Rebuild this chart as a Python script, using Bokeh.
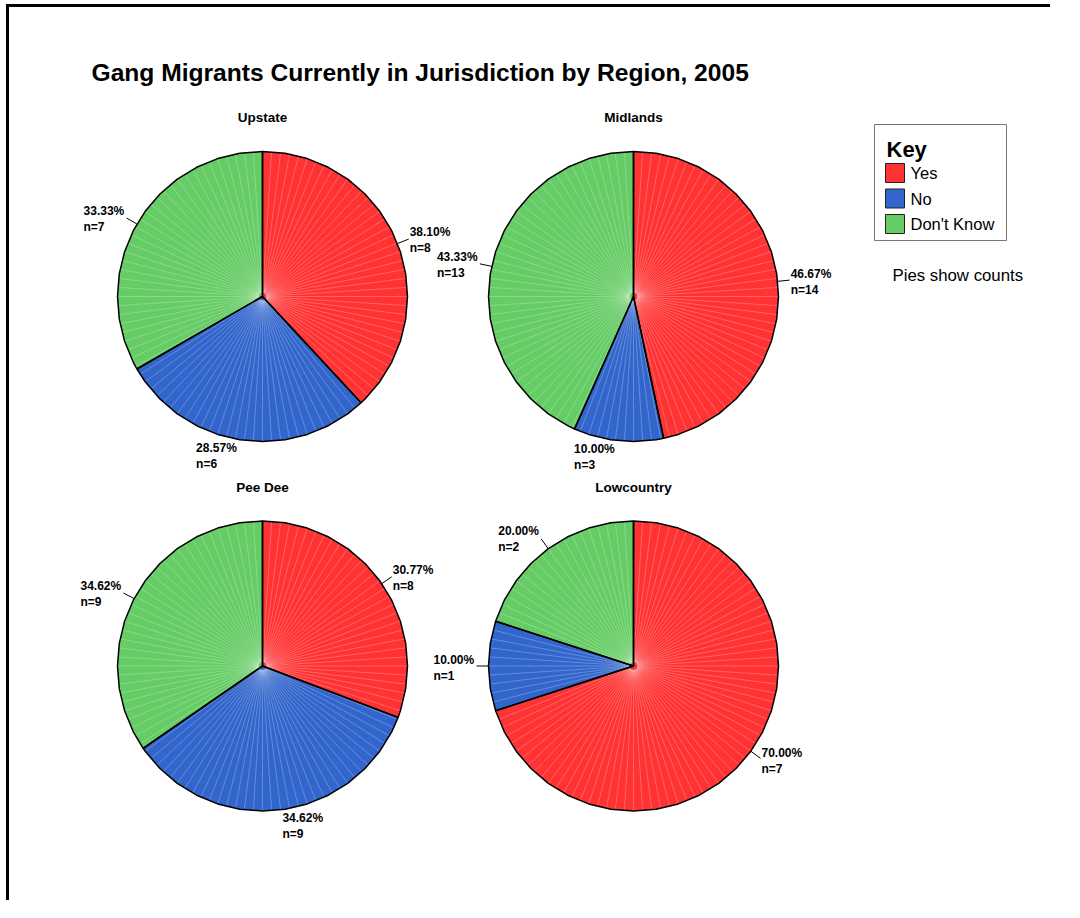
import numpy as np
from bokeh.plotting import figure
from bokeh.models import Range1d
from bokeh.core.properties import value
from bokeh.embed import file_html
from bokeh.resources import INLINE

# ---------------- data ----------------
chart_title = "Gang Migrants Currently in Jurisdiction by Region, 2005"
regions = ["Upstate", "Midlands", "Pee Dee", "Lowcountry"]
categories = ["Yes", "No", "Don't Know"]
yes_counts = [8, 14, 8, 7]
no_counts = [6, 3, 9, 1]
dont_know_counts = [7, 13, 9, 2]
legend_title = "Key"
note_text = "Pies show counts"

# ---------------- style / layout ----------------
colors = ["#FF3333", "#3366CC", "#66CC66"]
FONT = value("Liberation Sans")
W, H = 1050, 900
centers = [(262, 296), (633, 296), (262, 665.5), (633, 665.5)]
subtitle_y = [117, 117, 487, 487]
R = 145.0
NSEG = 40      # polygon facets of each pie
NRAY = 100     # thin white rays
PCT_W = 43     # approx width of a percentage label
LEAD = 12      # leader length

p = figure(width=W, height=H, x_range=Range1d(0, W), y_range=Range1d(H, 0),
           x_axis_type=None, y_axis_type=None, toolbar_location=None,
           output_backend="svg", min_border=0)
p.outline_line_color = None
p.background_fill_color = "white"
p.border_fill_color = "white"

# frame (left and top edges only, as in the reference)
p.line(x=[7, 7], y=[920, 5], line_color="black", line_width=3)
p.line(x=[5.5, 1085], y=[5, 5], line_color="black", line_width=3)

# title
p.text(x=[91], y=[72], text=[chart_title], text_font=FONT, text_font_size="24.6px",
       text_font_style="bold", text_baseline="middle", text_align="left", text_color="black")

series = [yes_counts, no_counts, dont_know_counts]
for i, reg in enumerate(regions):
    cx, cy = centers[i]
    counts = [s[i] for s in series]
    total = float(sum(counts))
    p.text(x=[cx], y=[subtitle_y[i]], text=[reg], text_font=FONT, text_font_size="13.5px",
           text_font_style="bold", text_baseline="middle", text_align="center", text_color="black")
    start = 0.0
    polys_x, polys_y, cols = [], [], []
    mids = []
    for j, c in enumerate(counts):
        frac = c / total
        a0 = start * 2 * np.pi
        a1 = (start + frac) * 2 * np.pi
        step = 2 * np.pi / NSEG
        k0 = int(np.floor(a0 / step)) + 1
        angs = [a0] + [k * step for k in range(k0, NSEG + 1) if a0 < k * step < a1] + [a1]
        angs = np.array(angs)
        xs = [cx] + list(cx + R * np.sin(angs))
        ys = [cy] + list(cy - R * np.cos(angs))
        polys_x.append(xs)
        polys_y.append(ys)
        cols.append(colors[j])
        mids.append((a0 + a1) / 2)
        start += frac
    p.patches(xs=polys_x, ys=polys_y, fill_color=cols, line_color=None)
    # thin white rays
    ra = np.arange(NRAY) * 2 * np.pi / NRAY
    p.multi_line(xs=[[cx + 4 * np.sin(a), cx + R * np.sin(a)] for a in ra],
                 ys=[[cy - 4 * np.cos(a), cy - R * np.cos(a)] for a in ra],
                 line_color="white", line_alpha=0.35, line_width=0.7)
    # outlines
    p.patches(xs=polys_x, ys=polys_y, fill_alpha=0, line_color="black", line_width=1.5)

    # labels
    for j, c in enumerate(counts):
        m = mids[j]
        s, co = np.sin(m), np.cos(m)
        ex, ey = cx + R * s, cy - R * co
        ax, ay = ex + LEAD * s, ey - LEAD * co
        bcy = ay + 2 - 2 * co
        xl = ax + 1 if s >= 0 else ax - PCT_W
        if abs(s) > 0.3:
            p.line(x=[ex, ax], y=[ey, ay], line_color="black", line_width=1)
        pct = "%.2f%%" % (100.0 * c / total)
        p.text(x=[xl, xl], y=[bcy - 8, bcy + 8], text=[pct, "n=%d" % c], text_font=FONT,
               text_font_size="12px", text_font_style="bold", text_baseline="middle",
               text_align="left", text_color="black")

# legend
p.quad(left=[874], right=[1006], top=[124], bottom=[240], fill_color="white",
       line_color="#777777", line_width=1)
p.text(x=[886], y=[149], text=[legend_title], text_font=FONT, text_font_size="22px",
       text_font_style="bold", text_baseline="middle", text_align="left", text_color="black")
ly = [172.5 + 25.5 * j for j in range(len(categories))]
p.rect(x=[894.5] * len(categories), y=ly, width=19, height=19, fill_color=colors,
       line_color="#222222", line_width=1)
p.text(x=[910] * len(categories), y=ly, text=categories, text_font=FONT,
       text_font_size="16.5px", text_baseline="middle", text_align="left", text_color="black")
p.text(x=[892], y=[275], text=[note_text], text_font=FONT, text_font_size="16.8px",
       text_baseline="middle", text_align="left", text_color="black")

open("out.html", "w").write(file_html(p, INLINE))
